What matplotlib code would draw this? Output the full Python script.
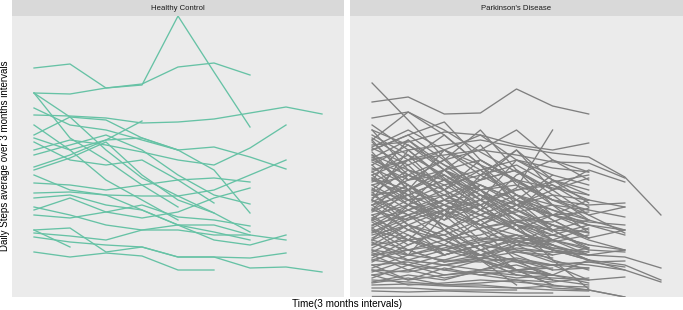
import matplotlib
matplotlib.use('Agg')
import matplotlib.pyplot as plt
import numpy as np

# daily steps average per 3-month interval (hundreds of steps), one list per subject
hc_steps = [
    [232, 236, 212, 215, 284, 228, 173],
    [207, 206, 212, 216, 233, 237, 225],
    [185, 184, 182, 177, 178, 181, 187, 193, 186],
    [207, 183, 150, 122, 104, 87, 68],
    [207, 162, 140, 115, 93],
    [192, 175, 170, 160, 150, 153, 143, 131],
    [150, 160, 155, 148, 140, 135, 152, 175],
    [162, 150, 160, 179],
    [158, 140, 135, 140, 120, 97],
    [145, 155, 165, 150, 125, 105, 96],
    [133, 145, 160, 162, 150, 130, 87],
    [130, 142, 158, 125, 100, 87],
    [125, 110, 105, 90, 75, 60, 55, 65],
    [117, 115, 110, 115, 120, 122, 118],
    [107, 108, 105, 104, 104, 110, 125, 140],
    [93, 85, 75, 70, 70, 65, 65, 60],
    [90, 102, 88, 82, 88, 102, 112],
    [85, 82, 88, 95, 83, 80, 74],
    [70, 53],
    [67, 64, 60, 70, 75, 75, 65],
    [63, 58, 55, 53, 43, 43, 32, 33, 28],
    [48, 43, 47, 44, 30, 30],
    [70, 72, 48, 53, 43, 43, 42, 47],
    [102, 105, 95, 90, 75, 68, 60],
    [175, 150, 120, 100, 80],
    [165, 183, 180, 162, 150],
]

pd_steps = [
    [198, 203, 186, 187, 211, 194, 186],
    [217, 180, 142, 110, 85, 68],
    [182, 188, 170, 148, 128, 110, 122],
    [160, 188, 165, 135, 105, 85],
    [150, 165, 178, 140, 118, 100, 95, 97],
    [155, 158, 168, 165, 155, 150, 157],
    [80, 90, 100, 95, 112, 170],
    [140, 150, 155, 160, 153, 147, 143, 123, 85],
    [130, 140, 145, 150, 145, 138, 137, 122],
    [145, 130, 120, 130, 140, 132, 128],
    [170, 155, 135, 110, 90, 75, 60, 50],
    [138, 120, 125, 105, 95, 85, 70],
    [125, 140, 150, 135, 120, 100, 85, 67],
    [120, 105, 90, 100, 110, 115, 93],
    [115, 125, 110, 90, 75, 60, 45, 43, 32],
    [110, 100, 115, 125, 105, 90, 80],
    [105, 110, 95, 85, 100, 80, 62, 70],
    [100, 85, 95, 110, 120, 112, 105],
    [95, 105, 120, 110, 90, 70, 52],
    [90, 80, 100, 85, 70, 55, 40, 35, 20],
    [85, 95, 85, 75, 65, 50, 40, 30, 18],
    [75, 85, 70, 90, 105, 95, 80],
    [70, 60, 65, 80, 88, 95, 90, 83],
    [65, 75, 60, 72, 80, 78, 92],
    [60, 50, 55, 45, 40, 35, 20, 23],
    [55, 60, 50, 45, 58, 65, 75],
    [50, 45, 40, 38, 42, 35, 38, 39],
    [45, 50, 38, 42, 48, 45, 52],
    [40, 35, 45, 55, 50, 48, 45],
    [35, 38, 30, 25, 20, 12, 10, 3],
    [30, 28, 35, 40, 30, 32],
    [25, 30, 22, 28, 25, 22, 20],
    [20, 18, 15, 15, 12, 10, 9],
    [15, 16, 14, 13, 12, 14, 13],
    [12, 12, 10, 10, 10],
    [9, 8, 9, 8, 7, 7],
    [4, 4, 4, 4, 4, 4, 4],
    [165, 145, 125, 100, 75, 55, 40],
    [175, 150, 122, 95, 70],
    [152, 135, 150, 165, 140, 125, 115],
    [135, 155, 130, 110, 115, 100, 90],
    [122, 100, 80, 95, 110, 118, 125],
    [112, 90, 105, 120, 130, 105, 80, 70],
    [102, 120, 130, 115, 100, 85, 75],
    [92, 70, 85, 100, 80, 60, 50, 48],
    [82, 100, 105, 90, 75, 65, 55],
    [72, 90, 75, 60, 65, 50],
    [62, 80, 90, 75, 95, 105, 100],
    [52, 70, 60, 65, 78, 85, 88],
    [42, 60, 50, 40, 55, 60, 72],
    [32, 45, 55, 40, 30, 25, 20],
    [22, 35, 30, 40, 25, 20, 15],
    [148, 110, 70, 40, 15],
    [158, 125, 140, 110, 75, 40, 11],
    [128, 145, 110, 70, 40, 20],
    [118, 135, 100, 115, 95, 70, 50],
    [108, 75, 45, 55, 65, 60],
    [98, 115, 95, 75, 90, 75, 67],
    [88, 105, 70, 50, 60, 45],
    [78, 55, 70, 85, 70, 55],
    [68, 85, 100, 80, 55, 40, 30],
    [58, 40, 50, 60, 45, 30],
    [48, 65, 45, 55, 48, 42],
    [38, 55, 70, 50, 62, 58, 65],
    [28, 40, 35, 30, 35, 25],
    [18, 25, 20, 30, 28, 25],
    [132, 115, 95, 75, 60, 50, 45, 50],
    [162, 140, 110, 130, 105, 80, 62],
    [142, 160, 135, 120, 130, 110, 85, 93],
    [122, 110, 130, 140, 120, 95, 67],
    [115, 95, 75, 50, 30, 15, 10, 3],
    [105, 85, 60, 40, 25],
    [95, 115, 90, 60, 75, 70],
    [55, 75, 65, 45, 30, 25, 40],
    [45, 30, 40, 50, 38, 25, 17],
    [35, 20, 25, 28, 22, 25],
    [25, 15, 17, 20, 18, 15],
    [82, 65, 50, 58, 62, 55, 45],
    [72, 50, 38, 45, 52, 48],
    [140, 125, 105, 85, 100, 90, 75, 70],
    [128, 105, 120, 100, 85, 75, 62],
    [100, 75, 90, 105, 85, 60, 52],
    [90, 110, 125, 105, 80, 65, 55, 50],
    [80, 60, 45, 55, 65, 50, 40],
    [60, 75, 60, 72, 78, 70, 68],
    [50, 35, 25, 30, 40, 30, 32],
    [40, 50, 60, 45, 55, 52, 48],
    [30, 20, 32, 25, 30, 35, 32],
    [153, 170, 150, 125, 135, 115, 100, 93],
    [143, 115, 85, 55, 30, 15],
    [107, 130, 115, 95, 70, 50, 45],
    [67, 82, 95, 75, 50, 38, 35, 30],
    [57, 45, 52, 62, 58, 55],
    [47, 40, 35, 42, 38, 35, 38, 33],
    [17, 22, 15, 17, 20, 18, 22],
    [74, 95, 110, 90, 70, 52, 48],
    [170, 130, 100, 120, 150, 110],
    [100, 150, 120, 90, 125, 140, 128],
    [160, 120, 140, 170, 130, 95],
    [120, 160, 130, 100, 140, 120, 110],
    [145, 110, 150, 130, 100, 125],
    [135, 100, 85, 125, 150, 120, 105],
    [110, 140, 165, 135, 95, 110, 130, 118],
    [125, 95, 130, 155, 115, 85, 100],
    [90, 125, 110, 140, 120, 100],
    [80, 110, 130, 105, 90, 120, 97],
    [60, 95, 80, 115, 100, 70, 80],
    [70, 45, 85, 95, 70, 85, 75, 65],
    [150, 165, 140, 150, 170, 140, 120],
    [85, 60, 90, 70, 55, 75, 62],
    [95, 70, 55, 80, 95, 85, 78, 75],
]

groups = ['Healthy Control', "Parkinson's Disease"]
colors = ['#66C2A5', '#7F7F7F']

plt.rcParams['font.family'] = ['Liberation Sans', 'DejaVu Sans']

fig = plt.figure(figsize=(6.83, 3.10), dpi=100)
fig.patch.set_facecolor('white')

W, H = 683, 310
panels = [(12, 344), (350, 683)]
top, bottom, strip_h = 16, 297, 16

for (x0, x1), name, data, col in zip(panels, groups, [hc_steps, pd_steps], colors):
    ax = fig.add_axes([x0 / W, 1 - bottom / H, (x1 - x0) / W, (bottom - top) / H])
    ax.set_facecolor('#EBEBEB')
    for s in data:
        ax.plot(np.arange(len(s)), s, color=col, lw=0.95, solid_joinstyle='round')
    ax.set_xlim(-0.611, 8.611)
    ax.set_ylim(3, 284)
    ax.set_xticks([])
    ax.set_yticks([])
    for sp in ax.spines.values():
        sp.set_visible(False)

    # facet strip
    st = fig.add_axes([x0 / W, 1 - top / H, (x1 - x0) / W, strip_h / H])
    st.set_facecolor('#D9D9D9')
    st.set_xticks([])
    st.set_yticks([])
    for sp in st.spines.values():
        sp.set_visible(False)
    st.text(0.5, 0.5, name, ha='center', va='center', fontsize=5.6, color='#1A1A1A',
            transform=st.transAxes)

fig.text(347 / W, 1 - 304 / H, 'Time(3 months intervals)', ha='center', va='center',
         fontsize=7.2, color='black')
fig.text(5 / W, 1 - 156 / H, 'Daily Steps average over 3 months intervals', ha='center',
         va='center', rotation=90, fontsize=7.0, color='black')

fig.savefig('out.png', dpi=100)
